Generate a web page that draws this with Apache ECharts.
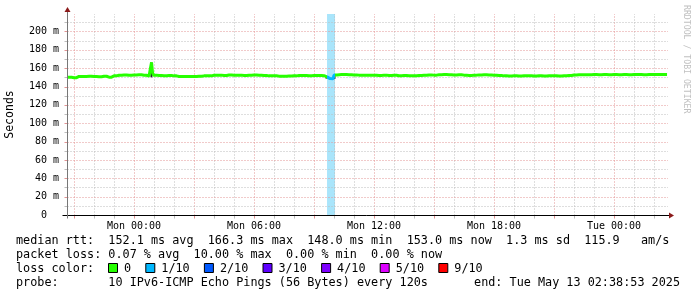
<!DOCTYPE html>
<html>
<head>
<meta charset="utf-8">
<script src="https://cdn.jsdelivr.net/npm/echarts@6/dist/echarts.min.js"></script>
<style>
html,body{margin:0;padding:0;background:#fff;}
#c{width:697px;height:297px;}
</style>
</head>
<body>
<div id="c"></div>
<script>
// ---- data (hours relative to Mon 00:00) ----
const xMinHour = -3.3519;   // Sun 20:38:53
const xMaxHour = 26.6481;   // Tue 02:38:53
const tickHours = [0, 6, 12, 18, 24];
const tickLabels = ['Mon 00:00', 'Mon 06:00', 'Mon 12:00', 'Mon 18:00', 'Tue 00:00'];
const yTicks = [0, 20, 40, 60, 80, 100, 120, 140, 160, 180, 200];

const hours = [-3.35,-3.25,-3.0,-2.75,-2.5,-2.25,-2.0,-1.75,-1.5,-1.25,-1.0,-0.75,-0.5,-0.25,0,0.25,0.5,0.75,0.85,0.9,0.95,1.0,
  1.25,1.5,1.75,2.0,2.25,2.5,2.75,3.0,3.25,3.5,3.75,4.0,4.25,4.5,4.75,5.0,5.25,5.5,5.75,6.0,6.25,6.5,6.75,7.0,7.25,7.5,7.75,8.0,
  8.25,8.5,8.75,9.0,9.25,9.5,9.65,9.75,9.85,9.95,10.05,10.25,10.5,10.75,11.0,11.25,11.5,11.75,12.0,12.25,12.5,12.75,13.0,13.25,
  13.5,13.75,14.0,14.25,14.5,14.75,15.0,15.25,15.5,15.75,16.0,16.25,16.5,16.75,17.0,17.25,17.5,17.75,18.0,18.25,18.5,18.75,19.0,
  19.25,19.5,19.75,20.0,20.25,20.5,20.75,21.0,21.25,21.5,21.75,22.0,22.25,22.5,22.75,23.0,23.25,23.5,23.75,24.0,24.25,24.5,24.75,
  25.0,25.25,25.5,25.75,26.0,26.25,26.5,26.65];
const median = [150.0,150.0,149.6,151.0,151.0,151.1,151.0,150.6,151.2,150.2,151.6,152.3,152.6,152.2,152.5,152.8,152.3,151.5,151.5,166.3,155.0,152.4,
  152.0,151.8,152.0,151.6,151.0,150.8,151.0,150.8,151.2,151.6,151.6,152.2,152.4,152.0,152.6,152.2,152.4,152.0,152.3,152.6,152.2,152.0,151.6,151.7,151.3,151.2,151.4,151.6,
  152.0,152.0,151.8,152.0,152.1,151.8,150.5,148.6,148.0,148.4,152.5,153.0,153.0,152.8,152.6,152.4,152.4,152.2,152.3,152.0,152.4,152.0,152.2,151.8,
  152.0,151.7,151.8,152.0,152.2,152.6,152.4,152.8,153.0,152.8,152.6,152.8,152.4,152.0,152.4,152.6,152.8,152.6,152.3,152.0,151.6,151.5,151.6,
  151.4,151.6,151.6,151.4,151.7,151.4,151.6,151.7,151.5,151.8,152.0,152.6,152.8,152.8,152.9,153.0,152.9,153.0,152.9,153.0,152.9,153.0,152.9,
  153.0,153.0,152.9,153.0,153.0,153.0,153.0,153.0];

const smokeHours = [0.87, 9.62, 10.02];
const smokeLow = [150.0, 148.6, 148.2];
const smokeHigh = [166.0, 151.0, 152.0];

const lossStart = [9.65];
const lossEnd = [10.05];
const lossLevel = [1];

const lossNames = ['0', '1/10', '2/10', '3/10', '4/10', '5/10', '9/10'];
const lossColors = ['#26ff00', '#00b8ff', '#0059ff', '#5e00ff', '#7e00ff', '#dd00ff', '#ff0000'];

const statsLine1 = 'median rtt:  152.1 ms avg  166.3 ms max  148.0 ms min  153.0 ms now  1.3 ms sd  115.9   am/s';
const statsLine2 = 'packet loss: 0.07 % avg  10.00 % max  0.00 % min  0.00 % now';
const probeText = 'probe:       10 IPv6-ICMP Echo Pings (56 Bytes) every 120s';
const endText = 'end: Tue May 13 02:38:53 2025';

// ---- build ----
const MONO = '"DejaVu Sans Mono", monospace';
const chart = echarts.init(document.getElementById('c'), null, {renderer: 'canvas'});

const lineData = hours.map((h, i) => [h, median[i]]);
const pieces = [];
let prev = -1e9;
lossStart.forEach((s, i) => {
  pieces.push({gte: prev, lt: s, color: lossColors[0]});
  pieces.push({gte: s, lt: lossEnd[i], color: lossColors[lossLevel[i]]});
  prev = lossEnd[i];
});
pieces.push({gte: prev, color: lossColors[0]});

const bandData = lossStart.map((s, i) => [{xAxis: s, itemStyle: {color: '#a9e5fb'}}, {xAxis: lossEnd[i]}]);

const option = {
  backgroundColor: '#fff',
  animation: false,
  grid: {left: 67, right: 30, top: 14, bottom: 82, outerBoundsMode: 'none', containLabel: false},
  xAxis: {
    type: 'value', min: xMinHour, max: xMaxHour,
    axisLine: {show: false},
    axisTick: {show: false},
    axisLabel: {
      customValues: tickHours,
      formatter: v => { const i = tickHours.indexOf(Math.round(v)); return i >= 0 ? tickLabels[i] : ''; },
      fontFamily: MONO, fontSize: 10, color: '#000', margin: 6
    },
    splitLine: {show: false}
  },
  yAxis: {
    type: 'value', min: 0, max: 219, interval: 20,
    name: 'Seconds', nameLocation: 'middle', nameGap: 51,
    nameTextStyle: {fontFamily: MONO, fontSize: 11.5, color: '#000'},
    axisLine: {show: false, onZero: false},
    axisTick: {show: false},
    axisLabel: {
      showMaxLabel: false,
      formatter: v => v === 0 ? '0  ' : (v + ' m'),
      fontFamily: MONO, fontSize: 10, color: '#000', margin: 8
    },
    splitLine: {show: false}
  },
  visualMap: {show: false, type: 'piecewise', dimension: 0, seriesIndex: 1, pieces},
  series: [
    {type: 'line', data: [], silent: true, z: 0,
     markArea: {silent: true, animation: false, data: bandData}},
    {type: 'line', name: 'median', data: lineData, step: 'middle', showSymbol: false,
     lineStyle: {width: 3}, z: 5, silent: true},
    {type: 'custom', name: 'smoke', z: 4, silent: true,
     data: smokeHours.map((h, i) => [h, smokeLow[i], smokeHigh[i]]),
     renderItem: (params, api) => {
       const lo = api.coord([api.value(0), api.value(1)]);
       const hi = api.coord([api.value(0), api.value(2)]);
       return {type: 'rect', shape: {x: lo[0] - 1, y: hi[1], width: 2, height: lo[1] - hi[1]},
               style: {fill: '#2a2a2a'}};
     }}
  ]
};
chart.setOption(option);

// grid lines, axes, arrows, text, legend
const px = (x, y) => chart.convertToPixel({gridIndex: 0}, [x, y]);
const origin = px(xMinHour, 0);
const topLeft = px(xMinHour, 219);
const rightEnd = px(xMaxHour, 0);
const ox = Math.round(origin[0]) + 0.5, oy = Math.round(origin[1]) + 0.5;
const ty = Math.round(topLeft[1]), rx = Math.round(rightEnd[0]);

const g = [];
const MINOR = '#bdbdbd', MAJOR = '#e29494';
for (let h = -3; h <= 26; h++) {
  const x = Math.round(px(h, 0)[0]) + 0.5;
  const major = h % 3 === 0;
  g.push({type: 'line', z: 1, silent: true, shape: {x1: x, y1: oy, x2: x, y2: ty},
          style: {stroke: major ? MAJOR : MINOR, lineWidth: 1, lineDash: [1, 2]}});
  g.push({type: 'line', z: 1, silent: true, shape: {x1: x, y1: oy, x2: x, y2: oy + 3},
          style: {stroke: major ? MAJOR : MINOR, lineWidth: 1}});
}
for (let v = 10; v <= 210; v += 10) {
  const y = Math.round(px(0, v)[1]) + 0.5;
  const major = v % 20 === 0;
  g.push({type: 'line', z: 1, silent: true, shape: {x1: ox, y1: y, x2: rx + 1, y2: y},
          style: {stroke: major ? MAJOR : MINOR, lineWidth: 1, lineDash: [1, 2]}});
  g.push({type: 'line', z: 1, silent: true, shape: {x1: ox - 3, y1: y, x2: ox, y2: y},
          style: {stroke: major ? MAJOR : MINOR, lineWidth: 1}});
}
g.push({type: 'line', shape: {x1: ox - 5, y1: oy, x2: rx + 4, y2: oy}, style: {stroke: '#000', lineWidth: 1}, z: 10});
g.push({type: 'line', shape: {x1: ox, y1: oy + 3, x2: ox, y2: ty - 2}, style: {stroke: '#777', lineWidth: 1}, z: 10});
g.push({type: 'polygon', shape: {points: [[ox - 3, ty - 2], [ox + 3, ty - 2], [ox, ty - 7]]}, style: {fill: '#8b1a1a'}, z: 11});
g.push({type: 'polygon', shape: {points: [[rx + 2, oy - 3], [rx + 2, oy + 3], [rx + 7, oy]]}, style: {fill: '#8b1a1a'}, z: 11});

const FONT = '11.8px ' + MONO;
const lineY = [241, 255, 269, 283];
function txt(s, x, y) {
  return {type: 'text', x: x, y: y, z: 20, silent: true,
    style: {text: s, font: FONT, fill: '#000', verticalAlign: 'middle', align: 'left'}};
}
g.push(txt(statsLine1, 16, lineY[0]));
g.push(txt(statsLine2, 16, lineY[1]));
g.push(txt('loss color:', 16, lineY[2]));
g.push(txt(probeText, 16, lineY[3]));
g.push({type: 'text', x: 680, y: lineY[3], z: 20, silent: true,
  style: {text: endText, font: FONT, fill: '#000', verticalAlign: 'middle', align: 'right'}});

let lx = 108;
lossNames.forEach((n, i) => {
  g.push({type: 'rect', shape: {x: lx + 0.5, y: lineY[2] - 5.5, width: 9, height: 9},
          style: {fill: lossColors[i], stroke: '#000', lineWidth: 1}, z: 20, silent: true});
  g.push(txt(n, lx + 16, lineY[2]));
  lx += 16 + (n.length + 2) * 7.1;
});

g.push({type: 'text', x: 686, y: 5, rotation: -Math.PI / 2, z: 20, silent: true,
  style: {text: 'RRDTOOL / TOBI OETIKER', font: '8.2px ' + MONO, fill: '#c0c0c0', align: 'left', verticalAlign: 'middle'}});

chart.setOption({graphic: {elements: g}});
</script>
</body>
</html>
